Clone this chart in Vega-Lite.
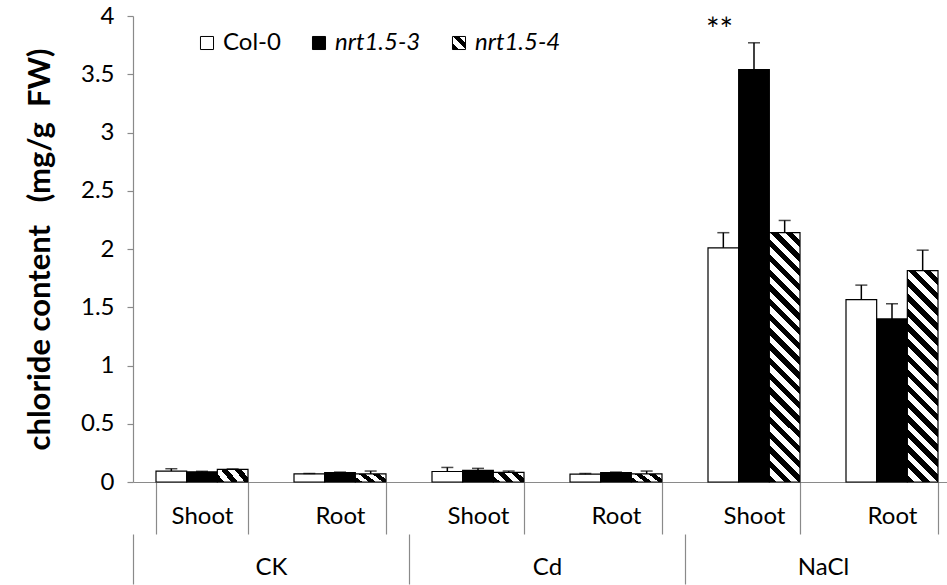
{
  "$schema": "https://vega.github.io/schema/vega-lite/v6.json",
  "autosize": "none",
  "padding": {"left": 133, "top": 16, "right": 0, "bottom": 103},
  "width": 814,
  "height": 466,
  "background": "white",
  "config": {
    "font": "Lato",
    "view": {"stroke": null},
    "axis": {"domainColor": "#8a8a8a", "tickColor": "#8a8a8a", "labelColor": "black", "labelFont": "Lato", "labelFontSize": 24, "grid": false, "domainWidth": 1.2, "tickWidth": 1.2}
  },
  "data": {
    "values": [
      {"treatment": "CK", "tissue": "Shoot", "group": "CK Shoot", "genotype": "Col-0", "value": 0.094, "upper": 0.114, "sig": ""},
      {"treatment": "CK", "tissue": "Shoot", "group": "CK Shoot", "genotype": "nrt1.5-3", "value": 0.087, "upper": 0.092, "sig": ""},
      {"treatment": "CK", "tissue": "Shoot", "group": "CK Shoot", "genotype": "nrt1.5-4", "value": 0.109, "upper": 0.112, "sig": ""},
      {"treatment": "CK", "tissue": "Root", "group": "CK Root", "genotype": "Col-0", "value": 0.069, "upper": 0.073, "sig": ""},
      {"treatment": "CK", "tissue": "Root", "group": "CK Root", "genotype": "nrt1.5-3", "value": 0.080, "upper": 0.085, "sig": ""},
      {"treatment": "CK", "tissue": "Root", "group": "CK Root", "genotype": "nrt1.5-4", "value": 0.069, "upper": 0.094, "sig": ""},
      {"treatment": "Cd", "tissue": "Shoot", "group": "Cd Shoot", "genotype": "Col-0", "value": 0.090, "upper": 0.125, "sig": ""},
      {"treatment": "Cd", "tissue": "Shoot", "group": "Cd Shoot", "genotype": "nrt1.5-3", "value": 0.100, "upper": 0.117, "sig": ""},
      {"treatment": "Cd", "tissue": "Shoot", "group": "Cd Shoot", "genotype": "nrt1.5-4", "value": 0.083, "upper": 0.094, "sig": ""},
      {"treatment": "Cd", "tissue": "Root", "group": "Cd Root", "genotype": "Col-0", "value": 0.067, "upper": 0.073, "sig": ""},
      {"treatment": "Cd", "tissue": "Root", "group": "Cd Root", "genotype": "nrt1.5-3", "value": 0.080, "upper": 0.085, "sig": ""},
      {"treatment": "Cd", "tissue": "Root", "group": "Cd Root", "genotype": "nrt1.5-4", "value": 0.069, "upper": 0.094, "sig": ""},
      {"treatment": "NaCl", "tissue": "Shoot", "group": "NaCl Shoot", "genotype": "Col-0", "value": 2.01, "upper": 2.14, "sig": ""},
      {"treatment": "NaCl", "tissue": "Shoot", "group": "NaCl Shoot", "genotype": "nrt1.5-3", "value": 3.54, "upper": 3.77, "sig": "**"},
      {"treatment": "NaCl", "tissue": "Shoot", "group": "NaCl Shoot", "genotype": "nrt1.5-4", "value": 2.14, "upper": 2.245, "sig": ""},
      {"treatment": "NaCl", "tissue": "Root", "group": "NaCl Root", "genotype": "Col-0", "value": 1.565, "upper": 1.69, "sig": ""},
      {"treatment": "NaCl", "tissue": "Root", "group": "NaCl Root", "genotype": "nrt1.5-3", "value": 1.40, "upper": 1.53, "sig": ""},
      {"treatment": "NaCl", "tissue": "Root", "group": "NaCl Root", "genotype": "nrt1.5-4", "value": 1.815, "upper": 1.99, "sig": ""}
    ]
  },
  "layer": [
    {
      "encoding": {
        "x": {
          "field": "group", "type": "nominal", "sort": ["CK Shoot", "CK Root", "Cd Shoot", "Cd Root", "NaCl Shoot", "NaCl Root"],
          "scale": {"range": [0, 828], "paddingInner": 0.33333, "paddingOuter": 0.166667},
          "axis": {"title": null, "orient": "bottom", "labelAngle": 0, "tickBand": "extent", "tickSize": 52, "labelPadding": -18, "labelBaseline": "middle", "labelExpr": "split(datum.value, ' ')[1]"}
        },
        "xOffset": {"field": "genotype", "type": "nominal", "sort": ["Col-0", "nrt1.5-3", "nrt1.5-4"], "scale": {"paddingInner": 0, "paddingOuter": 0}}
      },
      "layer": [
        {
          "mark": {"type": "bar", "stroke": "black", "strokeWidth": 1.2},
          "encoding": {
            "y": {
              "field": "value", "type": "quantitative",
              "scale": {"domain": [0, 4], "nice": false, "zero": true},
              "axis": {"values": [0, 0.5, 1, 1.5, 2, 2.5, 3, 3.5, 4], "format": "~g", "tickSize": 6, "labelPadding": 13,
                "title": "chloride content\u00a0\u00a0\u00a0(mg/g\u00a0\u00a0FW)", "titleFont": "Lato", "titleFontSize": 31, "titleFontWeight": "bold", "titleColor": "black", "titlePadding": 24}
            },
            "fill": {
              "field": "genotype", "type": "nominal",
              "scale": {"domain": ["Col-0", "nrt1.5-3", "nrt1.5-4"], "range": ["#ffffff", "#000000", {"expr": "{gradient: 'linear', x1: 0, y1: 1, x2: 1, y2: 0, stops: [{offset: 0, color: '#000'}, {offset: 0.25, color: '#000'}, {offset: 0.25, color: '#fff'}, {offset: 0.5, color: '#fff'}, {offset: 0.5, color: '#000'}, {offset: 0.75, color: '#000'}, {offset: 0.75, color: '#fff'}, {offset: 1, color: '#fff'}]}"}]},
              "legend": {
                "title": null, "orient": "none", "legendX": 62, "legendY": 15, "direction": "horizontal",
                "symbolType": "square", "symbolSize": 170, "symbolStrokeColor": "black", "symbolStrokeWidth": 1,
                "labelFont": "Lato", "labelFontSize": 24, "labelColor": "black", "labelOffset": 4, "columnPadding": 26,
                "encode": {
                  "labels": {"update": {"fontStyle": {"signal": "datum.value === 'Col-0' ? 'normal' : 'italic'"}}},
                  "symbols": {"update": {"stroke": {"value": "black"}, "opacity": {"value": 1}}}
                }
              },
              "condition": [
                {"test": "datum.genotype === 'nrt1.5-4' && datum.group === 'NaCl Shoot'", "value": {"gradient": "linear", "x1": 0, "y1": 1, "x2": 0.136, "y2": -0.106, "stops": [
                  {"offset": 0, "color": "#000"}, {"offset": 0.02632, "color": "#000"}, {"offset": 0.02632, "color": "#fff"}, {"offset": 0.05263, "color": "#fff"},
                  {"offset": 0.05263, "color": "#000"}, {"offset": 0.07895, "color": "#000"}, {"offset": 0.07895, "color": "#fff"}, {"offset": 0.10526, "color": "#fff"},
                  {"offset": 0.10526, "color": "#000"}, {"offset": 0.13158, "color": "#000"}, {"offset": 0.13158, "color": "#fff"}, {"offset": 0.15789, "color": "#fff"},
                  {"offset": 0.15789, "color": "#000"}, {"offset": 0.18421, "color": "#000"}, {"offset": 0.18421, "color": "#fff"}, {"offset": 0.21053, "color": "#fff"},
                  {"offset": 0.21053, "color": "#000"}, {"offset": 0.23684, "color": "#000"}, {"offset": 0.23684, "color": "#fff"}, {"offset": 0.26316, "color": "#fff"},
                  {"offset": 0.26316, "color": "#000"}, {"offset": 0.28947, "color": "#000"}, {"offset": 0.28947, "color": "#fff"}, {"offset": 0.31579, "color": "#fff"},
                  {"offset": 0.31579, "color": "#000"}, {"offset": 0.34211, "color": "#000"}, {"offset": 0.34211, "color": "#fff"}, {"offset": 0.36842, "color": "#fff"},
                  {"offset": 0.36842, "color": "#000"}, {"offset": 0.39474, "color": "#000"}, {"offset": 0.39474, "color": "#fff"}, {"offset": 0.42105, "color": "#fff"},
                  {"offset": 0.42105, "color": "#000"}, {"offset": 0.44737, "color": "#000"}, {"offset": 0.44737, "color": "#fff"}, {"offset": 0.47368, "color": "#fff"},
                  {"offset": 0.47368, "color": "#000"}, {"offset": 0.5, "color": "#000"}, {"offset": 0.5, "color": "#fff"}, {"offset": 0.52632, "color": "#fff"},
                  {"offset": 0.52632, "color": "#000"}, {"offset": 0.55263, "color": "#000"}, {"offset": 0.55263, "color": "#fff"}, {"offset": 0.57895, "color": "#fff"},
                  {"offset": 0.57895, "color": "#000"}, {"offset": 0.60526, "color": "#000"}, {"offset": 0.60526, "color": "#fff"}, {"offset": 0.63158, "color": "#fff"},
                  {"offset": 0.63158, "color": "#000"}, {"offset": 0.65789, "color": "#000"}, {"offset": 0.65789, "color": "#fff"}, {"offset": 0.68421, "color": "#fff"},
                  {"offset": 0.68421, "color": "#000"}, {"offset": 0.71053, "color": "#000"}, {"offset": 0.71053, "color": "#fff"}, {"offset": 0.73684, "color": "#fff"},
                  {"offset": 0.73684, "color": "#000"}, {"offset": 0.76316, "color": "#000"}, {"offset": 0.76316, "color": "#fff"}, {"offset": 0.78947, "color": "#fff"},
                  {"offset": 0.78947, "color": "#000"}, {"offset": 0.81579, "color": "#000"}, {"offset": 0.81579, "color": "#fff"}, {"offset": 0.84211, "color": "#fff"},
                  {"offset": 0.84211, "color": "#000"}, {"offset": 0.86842, "color": "#000"}, {"offset": 0.86842, "color": "#fff"}, {"offset": 0.89474, "color": "#fff"},
                  {"offset": 0.89474, "color": "#000"}, {"offset": 0.92105, "color": "#000"}, {"offset": 0.92105, "color": "#fff"}, {"offset": 0.94737, "color": "#fff"},
                  {"offset": 0.94737, "color": "#000"}, {"offset": 0.97368, "color": "#000"}, {"offset": 0.97368, "color": "#fff"}, {"offset": 1, "color": "#fff"}]}},
                {"test": "datum.genotype === 'nrt1.5-4' && datum.group === 'NaCl Root'", "value": {"gradient": "linear", "x1": 0, "y1": 1, "x2": 0.1625, "y2": -0.121, "stops": [
                  {"offset": 0, "color": "#000"}, {"offset": 0.03125, "color": "#000"}, {"offset": 0.03125, "color": "#fff"}, {"offset": 0.0625, "color": "#fff"},
                  {"offset": 0.0625, "color": "#000"}, {"offset": 0.09375, "color": "#000"}, {"offset": 0.09375, "color": "#fff"}, {"offset": 0.125, "color": "#fff"},
                  {"offset": 0.125, "color": "#000"}, {"offset": 0.15625, "color": "#000"}, {"offset": 0.15625, "color": "#fff"}, {"offset": 0.1875, "color": "#fff"},
                  {"offset": 0.1875, "color": "#000"}, {"offset": 0.21875, "color": "#000"}, {"offset": 0.21875, "color": "#fff"}, {"offset": 0.25, "color": "#fff"},
                  {"offset": 0.25, "color": "#000"}, {"offset": 0.28125, "color": "#000"}, {"offset": 0.28125, "color": "#fff"}, {"offset": 0.3125, "color": "#fff"},
                  {"offset": 0.3125, "color": "#000"}, {"offset": 0.34375, "color": "#000"}, {"offset": 0.34375, "color": "#fff"}, {"offset": 0.375, "color": "#fff"},
                  {"offset": 0.375, "color": "#000"}, {"offset": 0.40625, "color": "#000"}, {"offset": 0.40625, "color": "#fff"}, {"offset": 0.4375, "color": "#fff"},
                  {"offset": 0.4375, "color": "#000"}, {"offset": 0.46875, "color": "#000"}, {"offset": 0.46875, "color": "#fff"}, {"offset": 0.5, "color": "#fff"},
                  {"offset": 0.5, "color": "#000"}, {"offset": 0.53125, "color": "#000"}, {"offset": 0.53125, "color": "#fff"}, {"offset": 0.5625, "color": "#fff"},
                  {"offset": 0.5625, "color": "#000"}, {"offset": 0.59375, "color": "#000"}, {"offset": 0.59375, "color": "#fff"}, {"offset": 0.625, "color": "#fff"},
                  {"offset": 0.625, "color": "#000"}, {"offset": 0.65625, "color": "#000"}, {"offset": 0.65625, "color": "#fff"}, {"offset": 0.6875, "color": "#fff"},
                  {"offset": 0.6875, "color": "#000"}, {"offset": 0.71875, "color": "#000"}, {"offset": 0.71875, "color": "#fff"}, {"offset": 0.75, "color": "#fff"},
                  {"offset": 0.75, "color": "#000"}, {"offset": 0.78125, "color": "#000"}, {"offset": 0.78125, "color": "#fff"}, {"offset": 0.8125, "color": "#fff"},
                  {"offset": 0.8125, "color": "#000"}, {"offset": 0.84375, "color": "#000"}, {"offset": 0.84375, "color": "#fff"}, {"offset": 0.875, "color": "#fff"},
                  {"offset": 0.875, "color": "#000"}, {"offset": 0.90625, "color": "#000"}, {"offset": 0.90625, "color": "#fff"}, {"offset": 0.9375, "color": "#fff"},
                  {"offset": 0.9375, "color": "#000"}, {"offset": 0.96875, "color": "#000"}, {"offset": 0.96875, "color": "#fff"}, {"offset": 1, "color": "#fff"}]}},
                {"test": "datum.genotype === 'nrt1.5-4'", "value": {"gradient": "linear", "x1": 0, "y1": 1, "x2": 1.2, "y2": 0.592, "stops": [
                  {"offset": 0, "color": "#000"}, {"offset": 0.16667, "color": "#000"}, {"offset": 0.16667, "color": "#fff"}, {"offset": 0.33333, "color": "#fff"},
                  {"offset": 0.33333, "color": "#000"}, {"offset": 0.5, "color": "#000"}, {"offset": 0.5, "color": "#fff"}, {"offset": 0.66667, "color": "#fff"},
                  {"offset": 0.66667, "color": "#000"}, {"offset": 0.83333, "color": "#000"}, {"offset": 0.83333, "color": "#fff"}, {"offset": 1, "color": "#fff"}]}}
              ]
            }
          }
        },
        {
          "mark": {"type": "rule", "color": "black", "strokeWidth": 1.5},
          "encoding": {"y": {"field": "value", "type": "quantitative"}, "y2": {"field": "upper"}}
        },
        {
          "mark": {"type": "tick", "color": "black", "thickness": 1.5, "size": 12, "orient": "horizontal"},
          "encoding": {"y": {"field": "upper", "type": "quantitative"}}
        }
      ]
    },
    {
      "transform": [{"filter": "datum.sig !== ''"}],
      "mark": {"type": "text", "dy": -12, "fontSize": 32, "baseline": "middle", "font": "Lato", "color": "black"},
      "encoding": {
        "x": {
          "field": "treatment", "type": "nominal",
          "scale": {"domain": ["CK", "Cd", "NaCl"], "range": [0, 828], "paddingInner": 0, "paddingOuter": 0},
          "axis": {"title": null, "orient": "bottom", "offset": 52, "domain": false, "labelAngle": 0, "tickBand": "extent", "tickSize": 50, "labelPadding": -17, "labelBaseline": "middle"}
        },
        "xOffset": {"field": "tissue", "type": "nominal", "scale": {"domain": ["Shoot", "Root"], "paddingInner": 0.33333, "paddingOuter": 0.166667}},
        "y": {"field": "upper", "type": "quantitative"},
        "text": {"field": "sig"}
      }
    }
  ],
  "resolve": {"scale": {"x": "independent", "xOffset": "independent"}, "axis": {"x": "independent"}}
}
